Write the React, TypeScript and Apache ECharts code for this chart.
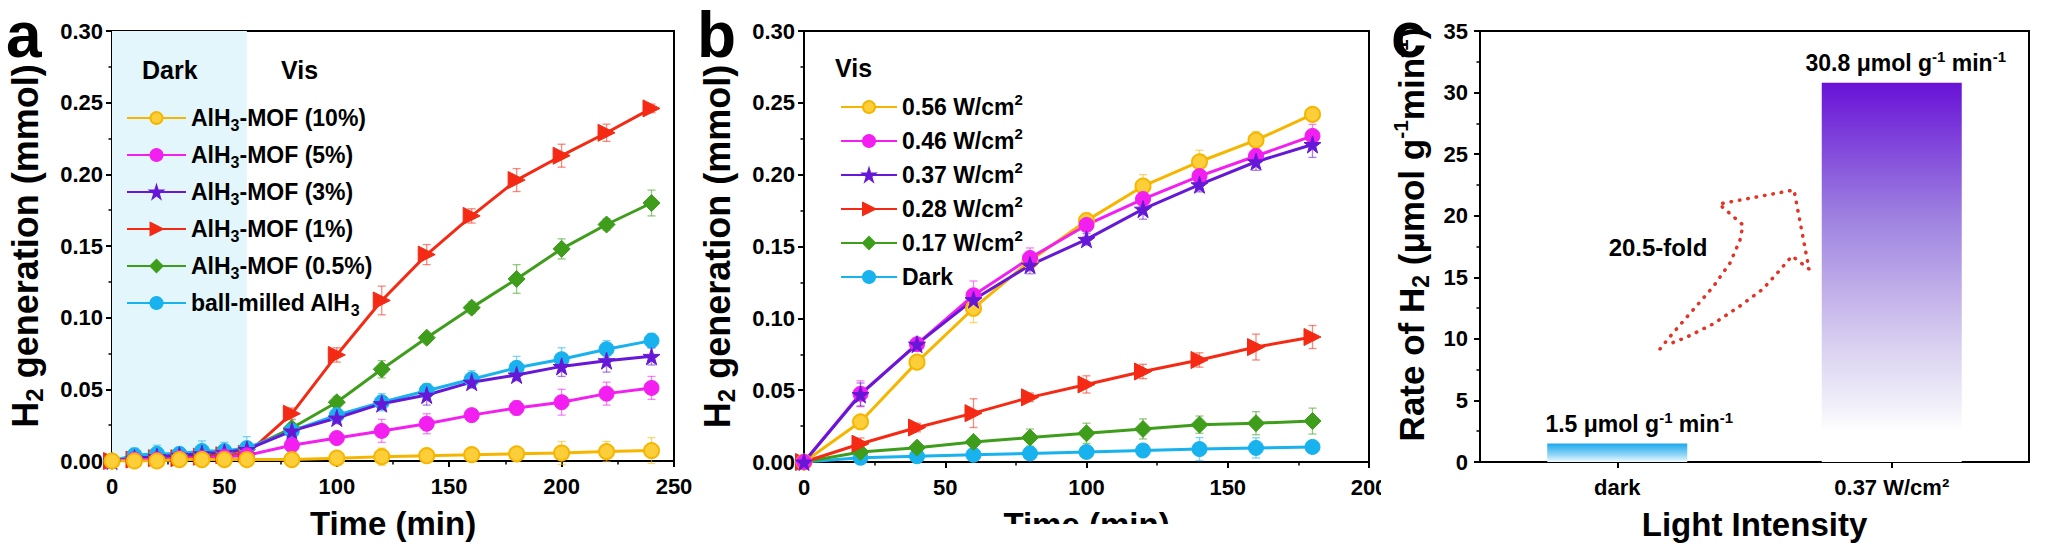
import React, { useEffect, useRef } from "react";
import * as echarts from "echarts";

const FONT = '"Liberation Sans", Arial, sans-serif';

// panel a: H2 generation of AlH3-MOF samples (dark 0-60 min, then Vis)
const timeA = [0, 10, 20, 30, 40, 50, 60, 80, 100, 120, 140, 160, 180, 200, 220, 240];
const mof10 = [0, 0, 0, 0.001, 0.001, 0.001, 0.001, 0.001, 0.002, 0.003, 0.0037, 0.0044, 0.005, 0.0056, 0.0066, 0.0073];
const mof5 = [0, 0.001, 0.001, 0.002, 0.002, 0.003, 0.004, 0.011, 0.016, 0.021, 0.026, 0.032, 0.037, 0.041, 0.047, 0.051];
const mof3 = [0, 0.002, 0.003, 0.004, 0.005, 0.006, 0.008, 0.021, 0.03, 0.04, 0.046, 0.055, 0.06, 0.066, 0.07, 0.073];
const mof1 = [0, 0.001, 0.002, 0.002, 0.003, 0.004, 0.005, 0.033, 0.074, 0.112, 0.144, 0.171, 0.196, 0.213, 0.229, 0.246];
const mof05 = [0, 0.002, 0.003, 0.004, 0.005, 0.006, 0.008, 0.023, 0.041, 0.064, 0.086, 0.107, 0.127, 0.148, 0.165, 0.18];
const ballMilled = [0, 0.004, 0.005, 0.005, 0.007, 0.007, 0.009, 0.021, 0.032, 0.041, 0.049, 0.057, 0.065, 0.071, 0.078, 0.084];

const err10 = [0, 0, 0, 0, 0, 0, 0, 0.002, 0.003, 0.006, 0.005, 0.004, 0.004, 0.008, 0.007, 0.009];
const err5 = [0, 0, 0, 0, 0, 0, 0, 0.003, 0.003, 0.008, 0.007, 0.004, 0.005, 0.009, 0.008, 0.008];
const err3 = [0, 0.002, 0.003, 0.002, 0.002, 0.003, 0.003, 0.003, 0.004, 0.004, 0.007, 0.004, 0.004, 0.007, 0.008, 0.006];
const err1 = [0, 0.002, 0.002, 0.002, 0.002, 0.002, 0.002, 0.004, 0.005, 0.01, 0.007, 0.005, 0.008, 0.008, 0.006, 0.003];
const err05 = [0, 0.002, 0.002, 0.002, 0.002, 0.002, 0.002, 0.003, 0.004, 0.006, 0.003, 0.004, 0.01, 0.007, 0.004, 0.009];
const errBall = [0, 0.005, 0.006, 0.004, 0.007, 0.006, 0.008, 0.004, 0.004, 0.006, 0.005, 0.006, 0.008, 0.008, 0.006, 0.005];

const darkEnd = 60;

// panel b: different light intensities
const timeB = [0, 20, 40, 60, 80, 100, 120, 140, 160, 180];
const w056 = [0, 0.028, 0.0695, 0.107, 0.14, 0.168, 0.192, 0.209, 0.224, 0.242];
const w046 = [0, 0.0475, 0.082, 0.116, 0.142, 0.165, 0.183, 0.199, 0.213, 0.227];
const w037 = [0, 0.047, 0.082, 0.113, 0.137, 0.155, 0.176, 0.193, 0.209, 0.221];
const w028 = [0, 0.0127, 0.024, 0.034, 0.045, 0.054, 0.063, 0.071, 0.08, 0.087];
const w017 = [0, 0.007, 0.01, 0.014, 0.017, 0.02, 0.023, 0.026, 0.027, 0.0285];
const darkB = [0, 0.003, 0.004, 0.005, 0.006, 0.007, 0.008, 0.009, 0.0098, 0.0105];

const e056 = [0, 0.004, 0.004, 0.01, 0.004, 0.005, 0.008, 0.008, 0.006, 0.004];
const e046 = [0, 0.009, 0.004, 0.01, 0.007, 0.008, 0.005, 0.005, 0.005, 0.008];
const e037 = [0, 0.008, 0.003, 0.005, 0.006, 0.004, 0.007, 0.005, 0.006, 0.009];
const e028 = [0, 0.004, 0.003, 0.01, 0.003, 0.006, 0.005, 0.005, 0.009, 0.008];
const e017 = [0, 0.002, 0.002, 0.003, 0.006, 0.007, 0.007, 0.006, 0.008, 0.009];
const eDark = [0, 0.002, 0.002, 0.002, 0.003, 0.003, 0.004, 0.008, 0.007, 0.004];

// panel c: rate
const rateCats = ["dark", "0.37 W/cm²"];
const rates = [1.5, 30.8];
const foldText = "20.5-fold";

const YELLOW = "#f6b600";
const MAGENTA = "#f21ff0";
const PURPLE = "#6618d6";
const RED = "#f42a14";
const GREEN = "#3f9d1c";
const CYAN = "#18b2ee";

const STAR = "path://M50,0 L61,35 L98,35 L68,57 L79,91 L50,70 L21,91 L32,57 L2,35 L39,35 Z";
const RIGHT_TRI = "path://M0,0 L10,5 L0,10 Z";

// dotted arrow outline in panel c (page pixels)
const arrowPts = [
  [1660, 349], [1673, 333], [1693, 310], [1713, 287], [1730, 263], [1740, 240], [1743, 225],
  [1719, 204], [1794, 190], [1809, 269], [1792, 256], [1780, 270], [1763, 289],
  [1740, 306], [1713, 324], [1687, 337], [1667, 345],
];

const axisBase = {
  axisLine: { show: true, onZero: false, lineStyle: { color: "#000", width: 2 } },
  axisTick: { show: true, inside: false, length: 6, lineStyle: { color: "#000", width: 2 } },
  minorTick: { show: true, splitNumber: 2, length: 3.5, lineStyle: { color: "#000", width: 1.5 } },
  splitLine: { show: false },
};

const tickLabel = { color: "#000", fontSize: 22, fontWeight: "bold", fontFamily: FONT };

const richSubSup = {
  sub: { fontSize: 16, fontWeight: "bold", fontFamily: FONT, color: "#000", verticalAlign: "bottom" },
  sup: { fontSize: 15, fontWeight: "bold", fontFamily: FONT, color: "#000", verticalAlign: "top" },
};

const axisTitle = (size: number, lh: number) => ({
  color: "#000",
  fontSize: size,
  fontWeight: "bold",
  fontFamily: FONT,
  lineHeight: lh,
  rich: {
    a: { fontSize: size, fontWeight: "bold", fontFamily: FONT, color: "#000" },
    sub: { fontSize: Math.round(size * 0.66), fontWeight: "bold", fontFamily: FONT, color: "#000", verticalAlign: "bottom" },
    sup: { fontSize: Math.round(size * 0.6), fontWeight: "bold", fontFamily: FONT, color: "#000", verticalAlign: "top" },
  },
});

const lineSeries = (
  name: string, xs: number[], ys: number[], color: string, symbol: string, idx: number, extra: any = {}
) => ({
  name,
  type: "line",
  xAxisIndex: idx,
  yAxisIndex: idx,
  data: xs.map((x, i) => [x, ys[i]]),
  symbol,
  symbolSize: symbol === "circle" ? 15 : 17,
  lineStyle: { color, width: 3 },
  itemStyle: { color, borderColor: color, borderWidth: 1 },
  z: 3,
  ...extra,
});

const errSeries = (xs: number[], ys: number[], es: number[], color: string, idx: number) => ({
  type: "custom",
  xAxisIndex: idx,
  yAxisIndex: idx,
  silent: true,
  z: 2,
  data: xs.map((x, i) => [x, ys[i], es[i]]),
  encode: { x: 0, y: 1 },
  renderItem: (_p: any, api: any) => {
    const x = api.value(0);
    const y = api.value(1);
    const e = api.value(2);
    if (!e) return null;
    const hi = api.coord([x, y + e]);
    const lo = api.coord([x, y - e]);
    const w = 4;
    const style = { stroke: color, lineWidth: 1.3, opacity: 0.55 };
    return {
      type: "group",
      children: [
        { type: "line", shape: { x1: hi[0], y1: hi[1], x2: lo[0], y2: lo[1] }, style },
        { type: "line", shape: { x1: hi[0] - w, y1: hi[1], x2: hi[0] + w, y2: hi[1] }, style },
        { type: "line", shape: { x1: lo[0] - w, y1: lo[1], x2: lo[0] + w, y2: lo[1] }, style },
      ],
    };
  },
});

const App = () => {
  const chartRef = useRef<HTMLDivElement>(null);

  useEffect(() => {
    if (!chartRef.current) return;
    document.body.style.margin = "0";
    const chart = echarts.init(chartRef.current, null, { renderer: "svg" });

    const namesA = ["AlH3-MOF (10%)", "AlH3-MOF (5%)", "AlH3-MOF (3%)", "AlH3-MOF (1%)", "AlH3-MOF (0.5%)", "ball-milled AlH3"];
    const namesB = ["0.56 W/cm2", "0.46 W/cm2", "0.37 W/cm2", "0.28 W/cm2", "0.17 W/cm2", "Dark"];

    const legendText = {
      color: "#000",
      fontSize: 23,
      fontWeight: "bold",
      fontFamily: FONT,
      lineHeight: 30,
      rich: richSubSup,
    };

    const yAxisAB = (idx: number) => ({
      type: "value",
      gridIndex: idx,
      min: 0,
      max: 0.3,
      interval: 0.05,
      ...axisBase,
      axisLabel: { ...tickLabel, margin: 9, formatter: (v: number) => v.toFixed(2) },
      name: "{a|H}{sub|2}{a| generation (mmol)}",
      nameLocation: "middle",
      nameGap: 66,
      nameTextStyle: axisTitle(36, 42),
    });

    const xAxisAB = (idx: number, max: number) => ({
      type: "value",
      gridIndex: idx,
      min: 0,
      max,
      interval: 50,
      ...axisBase,
      axisLabel: { ...tickLabel, margin: 14 },
      name: "Time (min)",
      nameLocation: "middle",
      nameGap: 42,
      nameTextStyle: axisTitle(33, 40),
    });

    const labelOffsets = [[22, 0], [14, 0]];
    const barGradients = [
      new echarts.graphic.LinearGradient(0, 0, 0, 1, [
        { offset: 0, color: "#1aa8ee" },
        { offset: 0.6, color: "#8fd4f6" },
        { offset: 1, color: "#f2fafe" },
      ]),
      new echarts.graphic.LinearGradient(0, 0, 0, 1, [
        { offset: 0, color: "#6812d6" },
        { offset: 0.35, color: "#9d80e0" },
        { offset: 0.68, color: "#d7cdef" },
        { offset: 0.85, color: "#f0eff9" },
        { offset: 0.92, color: "#ffffff" },
        { offset: 1, color: "#ffffff" },
      ]),
    ];

    const letter = (t: string, x: number, y: number) => ({
      type: "text",
      x,
      y,
      z: 101,
      style: { text: t, font: `bold 64px ${FONT}`, fill: "#000", verticalAlign: "middle" },
    });
    const note = (t: string, x: number, y: number) => ({
      type: "text",
      x,
      y,
      z: 101,
      style: { text: t, font: `bold 25px ${FONT}`, fill: "#000", verticalAlign: "middle" },
    });

    const option: any = {
      animation: false,
      backgroundColor: "#fff",
      grid: [
        { left: 112, top: 31, width: 562, height: 430, show: true, borderColor: "#000", borderWidth: 2 },
        { left: 804, top: 31, width: 565, height: 431, show: true, borderColor: "#000", borderWidth: 2 },
        { left: 1480, top: 31, width: 549, height: 431, show: true, borderColor: "#000", borderWidth: 2 },
      ],
      xAxis: [
        xAxisAB(0, 250),
        xAxisAB(1, 200),
        {
          type: "category",
          gridIndex: 2,
          data: rateCats,
          ...axisBase,
          minorTick: { show: false },
          axisTick: { ...axisBase.axisTick, alignWithLabel: true },
          axisLabel: { ...tickLabel, margin: 14 },
          name: "Light Intensity",
          nameLocation: "middle",
          nameGap: 42,
          nameTextStyle: axisTitle(33, 40),
        },
      ],
      yAxis: [
        yAxisAB(0),
        yAxisAB(1),
        {
          type: "value",
          gridIndex: 2,
          min: 0,
          max: 35,
          interval: 5,
          ...axisBase,
          axisLabel: { ...tickLabel, margin: 12 },
          name: "{a|Rate of H}{sub|2}{a| (μmol g}{sup|-1}{a|min}{sup|-1}{a|)}",
          nameLocation: "middle",
          nameGap: 48,
          nameTextStyle: { ...axisTitle(35, 42), padding: [0, 0, 0, 24] },
        },
      ],
      legend: [
        {
          data: namesA,
          orient: "vertical",
          left: 121,
          top: 98,
          itemWidth: 59,
          itemHeight: 15,
          itemGap: 7,
          selectedMode: false,
          textStyle: legendText,
          formatter: (n: string) => n.replace("AlH3", "AlH{sub|3}"),
        },
        {
          data: namesB,
          orient: "vertical",
          left: 835,
          top: 87,
          itemWidth: 56,
          itemHeight: 15,
          itemGap: 4,
          selectedMode: false,
          textStyle: legendText,
          formatter: (n: string) => n.replace("cm2", "cm{sup|2}"),
        },
      ],
      series: [
        // panel a
        lineSeries(namesA[3], timeA, mof1, RED, RIGHT_TRI, 0, {
          markArea: {
            silent: true,
            itemStyle: { color: "#e2f6fc" },
            data: [[{ xAxis: 0 }, { xAxis: darkEnd }]],
          },
        }),
        lineSeries(namesA[4], timeA, mof05, GREEN, "diamond", 0),
        lineSeries(namesA[5], timeA, ballMilled, CYAN, "circle", 0),
        lineSeries(namesA[2], timeA, mof3, PURPLE, STAR, 0),
        lineSeries(namesA[1], timeA, mof5, MAGENTA, "circle", 0),
        lineSeries(namesA[0], timeA, mof10, YELLOW, "circle", 0, {
          itemStyle: { color: "#fccf3a", borderColor: YELLOW, borderWidth: 2 },
        }),
        errSeries(timeA, mof1, err1, RED, 0),
        errSeries(timeA, mof05, err05, GREEN, 0),
        errSeries(timeA, ballMilled, errBall, CYAN, 0),
        errSeries(timeA, mof3, err3, PURPLE, 0),
        errSeries(timeA, mof5, err5, MAGENTA, 0),
        errSeries(timeA, mof10, err10, YELLOW, 0),
        // panel b
        lineSeries(namesB[5], timeB, darkB, CYAN, "circle", 1),
        lineSeries(namesB[4], timeB, w017, GREEN, "diamond", 1),
        lineSeries(namesB[3], timeB, w028, RED, RIGHT_TRI, 1),
        lineSeries(namesB[0], timeB, w056, YELLOW, "circle", 1, {
          itemStyle: { color: "#fccf3a", borderColor: YELLOW, borderWidth: 2 },
        }),
        lineSeries(namesB[1], timeB, w046, MAGENTA, "circle", 1),
        lineSeries(namesB[2], timeB, w037, PURPLE, STAR, 1),
        errSeries(timeB, darkB, eDark, CYAN, 1),
        errSeries(timeB, w017, e017, GREEN, 1),
        errSeries(timeB, w028, e028, RED, 1),
        errSeries(timeB, w056, e056, YELLOW, 1),
        errSeries(timeB, w046, e046, MAGENTA, 1),
        errSeries(timeB, w037, e037, PURPLE, 1),
        // panel c
        {
          type: "bar",
          xAxisIndex: 2,
          yAxisIndex: 2,
          barWidth: 140,
          data: rates.map((v, i) => ({
            value: v,
            itemStyle: { color: barGradients[i] },
            label: { offset: labelOffsets[i] },
          })),
          label: {
            show: true,
            position: "top",
            distance: 6,
            color: "#000",
            fontSize: 23,
            fontWeight: "bold",
            fontFamily: FONT,
            lineHeight: 28,
            formatter: (p: any) => `${p.value} μmol g{sup|-1} min{sup|-1}`,
            rich: richSubSup,
          },
        },
      ],
      graphic: [
        // clipped area of the original figure
        { type: "rect", shape: { x: 690, y: 524, width: 700, height: 40 }, style: { fill: "#fff" }, z: 100 },
        { type: "rect", shape: { x: 1381, y: 466, width: 30, height: 50 }, style: { fill: "#fff" }, z: 100 },
        letter("a", 6, 35),
        letter("b", 697, 35),
        letter("c", 1391, 35),
        note("Dark", 142, 70),
        note("Vis", 281, 70),
        note("Vis", 835, 68),
        {
          type: "text",
          x: 1658,
          y: 247,
          z: 101,
          style: { text: foldText, font: `bold 24px ${FONT}`, fill: "#000", align: "center", verticalAlign: "middle" },
        },
        {
          type: "polyline",
          z: 101,
          shape: { points: arrowPts },
          style: { stroke: "#e03426", lineWidth: 3.5, lineDash: [0.5, 8], lineCap: "round", fill: "none" },
        },
      ],
    };

    chart.setOption(option);
    return () => chart.dispose();
  }, []);

  return <div ref={chartRef} style={{ width: 2050, height: 551 }} />;
};

export default App;
